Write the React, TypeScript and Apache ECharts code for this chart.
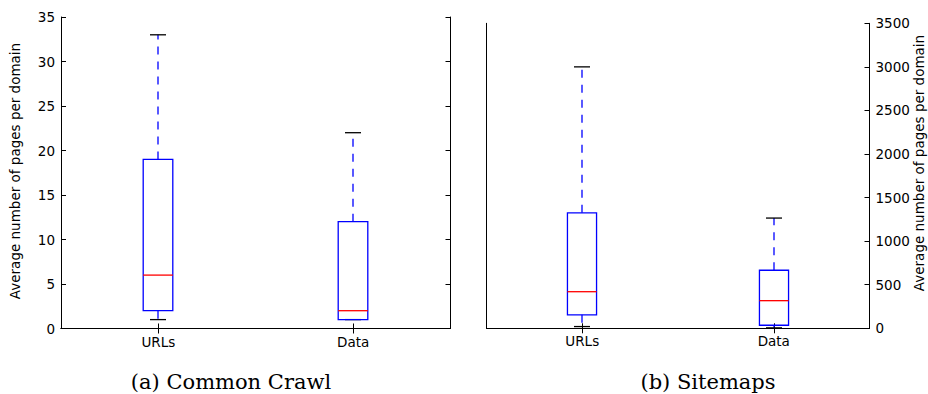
import React, { useEffect, useRef } from "react";
import * as echarts from "echarts";

const categories = ["URLs", "Data"];
// [low whisker, Q1, median, Q3, high whisker]
const crawlUrls = [1, 2, 6, 19, 33];
const crawlData = [1, 1, 2, 12, 22];
const sitemapUrls = [20, 155, 420, 1325, 3000];
const sitemapData = [5, 35, 317, 666, 1265];
const crawlAxis = { min: 0, max: 35, interval: 5 };
const sitemapAxis = { min: 0, max: 3500, interval: 500 };
const axisName = "Average number of pages per domain";
const captions = ["(a) Common Crawl", "(b) Sitemaps"];

const BLUE = "#0000ff";
const FONT = "DejaVu Sans";

function renderBox(params: any, api: any) {
  const cat = api.value(0);
  const low = api.value(1);
  const q1 = api.value(2);
  const med = api.value(3);
  const q3 = api.value(4);
  const high = api.value(5);
  const bw = api.size([1, 0])[0] * 0.152;
  const capW = 16;
  const pLow = api.coord([cat, low]);
  const pQ1 = api.coord([cat, q1]);
  const pMed = api.coord([cat, med]);
  const pQ3 = api.coord([cat, q3]);
  const pHigh = api.coord([cat, high]);
  const x = Math.round(pLow[0]);
  const lw = 1.3;
  return {
    type: "group",
    children: [
      {
        type: "line",
        shape: { x1: x, y1: pQ3[1], x2: x, y2: pHigh[1] },
        style: { stroke: BLUE, lineWidth: lw, lineDash: [8, 7] },
      },
      {
        type: "line",
        shape: { x1: x, y1: pQ1[1], x2: x, y2: pLow[1] },
        style: { stroke: BLUE, lineWidth: lw, lineDash: [8, 7] },
      },
      {
        type: "line",
        shape: { x1: x - capW / 2, y1: pHigh[1], x2: x + capW / 2, y2: pHigh[1] },
        style: { stroke: "#000", lineWidth: lw },
      },
      {
        type: "line",
        shape: { x1: x - capW / 2, y1: pLow[1], x2: x + capW / 2, y2: pLow[1] },
        style: { stroke: "#000", lineWidth: lw },
      },
      {
        type: "rect",
        shape: { x: x - bw / 2, y: pQ3[1], width: bw, height: pQ1[1] - pQ3[1] },
        style: { fill: "none", stroke: BLUE, lineWidth: lw },
      },
      {
        type: "line",
        shape: { x1: x - bw / 2, y1: pMed[1], x2: x + bw / 2, y2: pMed[1] },
        style: { stroke: "#ff0000", lineWidth: lw },
      },
    ],
  };
}

function toRows(a: number[], b: number[]) {
  return [
    [0, ...a],
    [1, ...b],
  ];
}

export default function App() {
  const ref = useRef<HTMLDivElement>(null);
  useEffect(() => {
    if (!ref.current) return;
    const chart = echarts.init(ref.current, null, { renderer: "svg" });
    const labelStyle = { color: "#000", fontFamily: FONT, fontSize: 13.5 };
    const line = { show: true, lineStyle: { color: "#000", width: 1 } };
    const tickIn = { show: true, inside: true, length: 5, lineStyle: { color: "#000", width: 1 } };
    const catAxis = (grid: number, position: string, labels: boolean) => ({
      type: "category",
      gridIndex: grid,
      position,
      data: categories,
      boundaryGap: true,
      axisLine: line,
      axisTick: { ...tickIn, alignWithLabel: true },
      axisLabel: labels ? { ...labelStyle, margin: 6 } : { show: false },
      splitLine: { show: false },
    });
    const valAxis = (grid: number, position: string, range: any, labels: boolean, ticks: boolean) => ({
      type: "value",
      gridIndex: grid,
      position,
      ...range,
      axisLine: line,
      axisTick: ticks ? tickIn : { show: false },
      axisLabel: labels
        ? { ...labelStyle, margin: 6, formatter: (v: number) => String(v) }
        : { show: false },
      splitLine: { show: false },
    });
    chart.setOption({
      animation: false,
      backgroundColor: "#fff",
      grid: [
        { left: 61, top: 17, right: 477.5, bottom: 65.5 },
        { left: 486.5, top: 23.3, right: 58.5, bottom: 65.7 },
      ],
      xAxis: [
        catAxis(0, "bottom", true),
        catAxis(0, "top", false),
        catAxis(1, "bottom", true),
        catAxis(1, "top", false),
      ],
      yAxis: [
        valAxis(0, "left", crawlAxis, true, true),
        valAxis(0, "right", crawlAxis, false, true),
        valAxis(1, "right", sitemapAxis, true, true),
        valAxis(1, "left", sitemapAxis, false, false),
      ],
      series: [
        {
          type: "custom",
          xAxisIndex: 0,
          yAxisIndex: 0,
          renderItem: renderBox,
          encode: { x: 0, y: [1, 2, 3, 4, 5] },
          data: toRows(crawlUrls, crawlData),
          clip: false,
        },
        {
          type: "custom",
          xAxisIndex: 2,
          yAxisIndex: 2,
          renderItem: renderBox,
          encode: { x: 0, y: [1, 2, 3, 4, 5] },
          data: toRows(sitemapUrls, sitemapData),
          clip: false,
        },
      ],
      graphic: [
        {
          type: "text",
          x: 15,
          y: 171,
          rotation: Math.PI / 2,
          style: {
            text: axisName,
            fill: "#000",
            font: `13.5px ${FONT}`,
            align: "center",
            verticalAlign: "middle",
          },
        },
        {
          type: "text",
          x: 919,
          y: 163,
          rotation: Math.PI / 2,
          style: {
            text: axisName,
            fill: "#000",
            font: `13.5px ${FONT}`,
            align: "center",
            verticalAlign: "middle",
          },
        },
        {
          type: "text",
          x: 231,
          y: 382,
          style: {
            text: captions[0],
            fill: "#000",
            font: `21px "DejaVu Serif"`,
            align: "center",
            verticalAlign: "middle",
          },
        },
        {
          type: "text",
          x: 708,
          y: 382,
          style: {
            text: captions[1],
            fill: "#000",
            font: `21px "DejaVu Serif"`,
            align: "center",
            verticalAlign: "middle",
          },
        },
      ],
    });
    return () => chart.dispose();
  }, []);
  return (
    <div
      ref={ref}
      style={{ position: "fixed", left: 0, top: 0, width: 928, height: 394, background: "#fff" }}
    />
  );
}
